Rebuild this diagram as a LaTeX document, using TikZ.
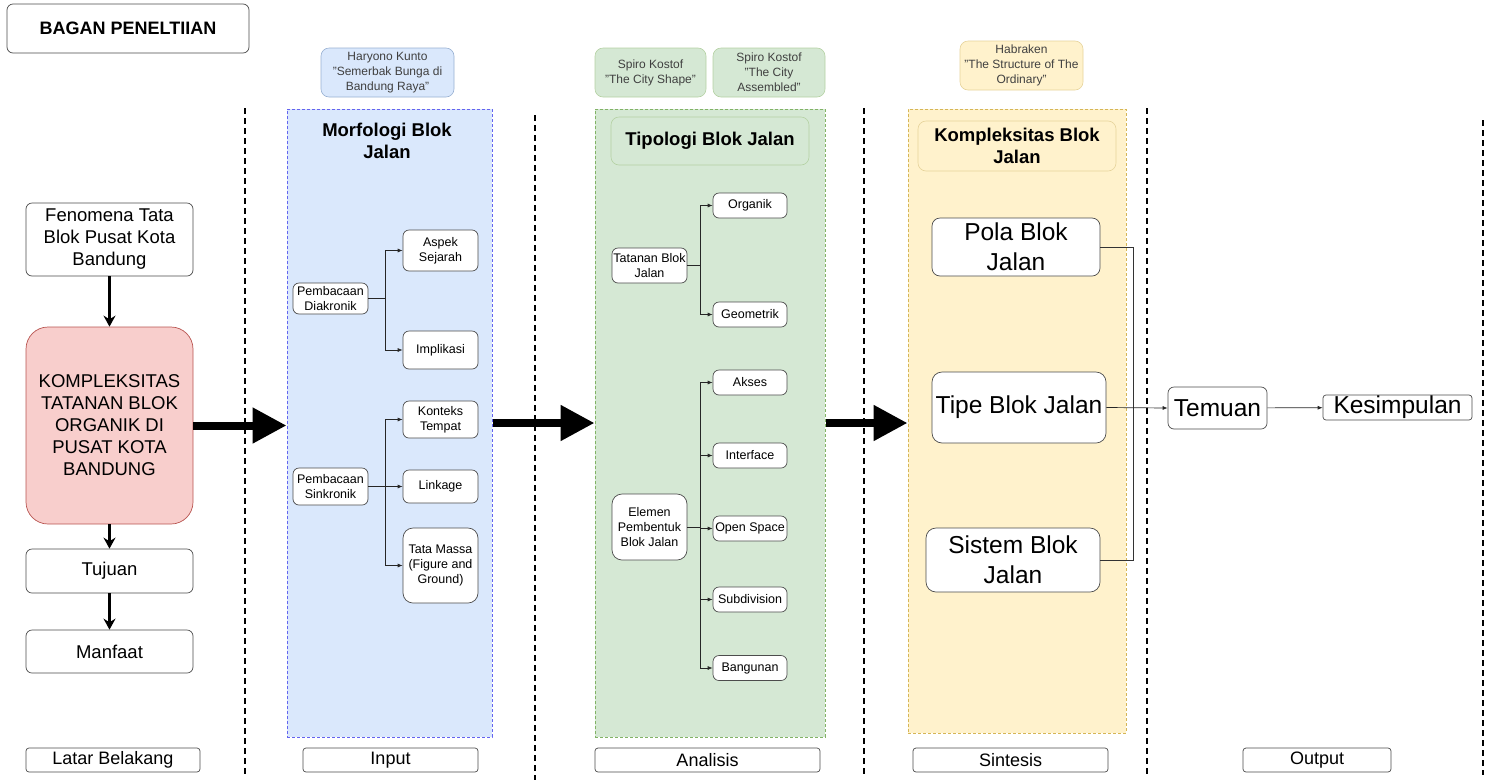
\documentclass[tikz,border=0pt]{standalone}
\usepackage{fontspec}
\setmainfont{Liberation Sans}
\usepackage{tikz}
\usetikzlibrary{arrows.meta}
\usetikzlibrary{positioning}
\definecolor{bluefill}{HTML}{DAE8FC}
\definecolor{blueline}{HTML}{6C8EBF}
\definecolor{bluedash}{HTML}{6464F0}
\definecolor{greenfill}{HTML}{D5E8D4}
\definecolor{greenline}{HTML}{82B366}
\definecolor{yellowfill}{HTML}{FFF2CC}
\definecolor{yellowline}{HTML}{D6B656}
\definecolor{redfill}{HTML}{F8CECC}
\definecolor{redline}{HTML}{B85450}
\tikzset{
  box/.style = {draw = black!70, fill = white, rounded corners = 6pt, align = center, inner sep = 1pt, line width = 0.7pt},
  sbox/.style = {box, font = \fontsize{12.5}{15}\selectfont},
  mbox/.style = {box, font = \fontsize{18.5}{22}\selectfont, minimum width = 167pt},
  bbox/.style = {box, font = \fontsize{24.5}{30}\selectfont},
  tag/.style = {box, rounded corners = 3pt, font = \fontsize{18}{20}\selectfont, minimum height = 24pt},
  src/.style = {rounded corners = 8pt, align = center, inner sep = 1pt, text = black!75, font = \fontsize{12}{15}\selectfont, line width = 0.6pt},
  head/.style = {align = center, font = \fontsize{18.5}{22.5}\selectfont\bfseries},
  panel/.style = {dash pattern = on 3pt off 2pt, line width = 1pt},
  sep/.style = {dash pattern = on 6pt off 4pt, line width = 1.4pt},
  fat/.style = {line width = 8pt, -{Triangle[length = 34pt, width = 34pt]}},
  down/.style = {line width = 2.4pt, -{Stealth[length = 11pt, width = 12pt]}},
  link/.style = {draw = black!85, line width = 0.7pt, -{Latex[length = 5pt, width = 4pt]}}
}
\begin{document}
\begin{tikzpicture}[x = 1pt, y = -1pt]
    \useasboundingbox (0, 0) rectangle (1485, 780);

    \node [box, minimum width = 242pt, minimum height = 49pt, font = \fontsize{18}{20}\selectfont\bfseries] (judul) at (128, 28.5) {BAGAN PENELTIIAN};

    \draw [sep] (245, 108) -- (245, 775);
    \draw [sep] (535, 115) -- (535, 780);
    \draw [sep] (864, 108) -- (864, 775);
    \draw [sep] (1147, 108) -- (1147, 775);
    \draw [sep] (1483, 120) -- (1483, 775);

    \node [mbox, minimum height = 73pt] (fenomena) at (109.5, 239.5) {Fenomena Tata\\Blok Pusat Kota\\Bandung};
    \node [mbox, minimum height = 197pt, fill = redfill, draw = redline, rounded corners = 22pt] (kompleks) at (109.5, 425.5) {KOMPLEKSITAS\\TATANAN BLOK\\ORGANIK DI\\PUSAT KOTA\\BANDUNG};
    \node [mbox, minimum height = 44pt] (tujuan) at (109.5, 571) {Tujuan};
    \node [mbox, minimum height = 43pt] (manfaat) at (109.5, 651.5) {Manfaat};
    \draw [down] (fenomena) -- (kompleks);
    \draw [down] (kompleks) -- (tujuan);
    \draw [down] (tujuan) -- (manfaat);

    \node [panel, draw = bluedash, fill = bluefill, minimum width = 205pt, minimum height = 628pt] (input) at (389.5, 423) {};
    \node [src, draw = blueline!70, fill = bluefill, minimum width = 133pt, minimum height = 49pt] (kunto) at (387.5, 72.5) {Haryono Kunto\\"Semerbak Bunga di\\Bandung Raya"};
    \node [head] (morfologi) at (387, 141) {Morfologi Blok\\Jalan};
    \node [sbox, minimum width = 75pt, minimum height = 31pt] (diakronik) at (330.5, 298.5) {Pembacaan\\Diakronik};
    \node [sbox, minimum width = 75pt, minimum height = 37pt] (sinkronik) at (330.5, 486.5) {Pembacaan\\Sinkronik};
    \node [sbox, minimum width = 75pt, minimum height = 41pt] (sejarah) at (440.5, 250.5) {Aspek\\Sejarah};
    \node [sbox, minimum width = 75pt, minimum height = 38pt] (implikasi) at (440.5, 350) {Implikasi};
    \node [sbox, minimum width = 75pt, minimum height = 37pt] (konteks) at (440.5, 419.5) {Konteks\\Tempat};
    \node [sbox, minimum width = 75pt, minimum height = 33pt] (linkage) at (440.5, 486.5) {Linkage};
    \node [sbox, minimum width = 75pt, minimum height = 75pt, rounded corners = 10pt] (massa) at (440.5, 565.5) {Tata Massa\\(Figure and\\Ground)};
    \draw [link] (diakronik.east) -- ++(17, 0) |- (sejarah.west);
    \draw [link] (diakronik.east) -- ++(17, 0) |- (implikasi.west);
    \draw [link] (sinkronik.east) -- ++(17, 0) |- (konteks.west);
    \draw [link] (sinkronik.east) -- (linkage.west);
    \draw [link] (sinkronik.east) -- ++(17, 0) |- (massa.west);

    \node [panel, draw = greenline, fill = greenfill, minimum width = 230pt, minimum height = 628pt] (analisis) at (710, 423) {};
    \node [src, draw = greenline!60, fill = greenfill, minimum width = 111pt, minimum height = 49pt] (shape) at (650.5, 72.5) {Spiro Kostof\\"The City Shape"};
    \node [src, draw = greenline!60, fill = greenfill, minimum width = 112pt, minimum height = 49pt] (assembled) at (769, 72.5) {Spiro Kostof\\"The City\\Assembled"};
    \node [head, draw = greenline!60, fill = greenfill, rounded corners = 8pt, minimum width = 198pt, minimum height = 48pt, line width = 0.6pt] (tipologi) at (710, 141) {Tipologi Blok Jalan};
    \node [sbox, minimum width = 75pt, minimum height = 35pt] (tatanan) at (649.5, 265.5) {Tatanan Blok\\Jalan};
    \node [sbox, minimum width = 74pt, minimum height = 25pt] (organik) at (750, 205.5) {Organik};
    \node [sbox, minimum width = 74pt, minimum height = 25pt] (geometrik) at (750, 314.5) {Geometrik};
    \node [sbox, minimum width = 75pt, minimum height = 66pt, rounded corners = 10pt] (elemen) at (649.5, 527) {Elemen\\Pembentuk\\Blok Jalan};
    \node [sbox, minimum width = 74pt, minimum height = 25pt] (akses) at (750, 382.5) {Akses};
    \node [sbox, minimum width = 74pt, minimum height = 25pt] (interface) at (750, 455.5) {Interface};
    \node [sbox, minimum width = 74pt, minimum height = 25pt] (openspace) at (750, 528.5) {Open Space};
    \node [sbox, minimum width = 74pt, minimum height = 25pt] (subdivision) at (750, 599.5) {Subdivision};
    \node [sbox, minimum width = 74pt, minimum height = 25pt] (bangunan) at (750, 668) {Bangunan};
    \draw [link] (tatanan.east) -- ++(13, 0) |- (organik.west);
    \draw [link] (tatanan.east) -- ++(13, 0) |- (geometrik.west);
    \foreach \anak in {akses, interface, openspace, subdivision, bangunan}
      \draw [link] (elemen.east) -- ++(13, 0) |- (\anak.west);

    \node [panel, draw = yellowline, fill = yellowfill, minimum width = 218pt, minimum height = 624pt] (sintesis) at (1017, 421) {};
    \node [src, draw = yellowline!60, fill = yellowfill, minimum width = 123pt, minimum height = 49pt] (habraken) at (1021.5, 65.5) {Habraken\\"The Structure of The\\Ordinary"};
    \node [head, draw = yellowline!60, fill = yellowfill, rounded corners = 8pt, minimum width = 198pt, minimum height = 50pt, line width = 0.6pt] (kompleksitas) at (1017, 146) {Kompleksitas Blok\\Jalan};
    \node [bbox, minimum width = 168pt, minimum height = 58pt, rounded corners = 8pt] (pola) at (1016, 247) {Pola Blok\\Jalan};
    \node [bbox, minimum width = 174pt, minimum height = 71pt, rounded corners = 10pt] (tipe) at (1019, 407.5) {Tipe Blok Jalan};
    \node [bbox, minimum width = 174pt, minimum height = 64pt, rounded corners = 10pt] (sistem) at (1013, 560) {Sistem Blok\\Jalan};
    \draw [draw = black!80, line width = 0.7pt] (pola.east) -- ++(33, 0) |- (sistem.east);

    \node [bbox, minimum width = 99pt, minimum height = 42pt] (temuan) at (1217.5, 408) {Temuan};
    \node [bbox, minimum width = 149pt, minimum height = 25pt, rounded corners = 3pt] (kesimpulan) at (1397.5, 407.5) {Kesimpulan};
    \draw [link] (tipe.east) -- (temuan.west);
    \draw [link] (temuan) -- (kesimpulan);

    \draw [fat] (kompleks.east) -- (kompleks.east -| input.west);
    \draw [fat] (input.east) -- (analisis.west);
    \draw [fat] (analisis.east) -- (analisis.east -| sintesis.west);

    \node [tag, minimum width = 174pt] (latar) at (113, 760) {Latar Belakang};
    \node [tag, minimum width = 175pt] (tinput) at (390.5, 760) {Input};
    \node [tag, minimum width = 225pt] (tanalisis) at (707.5, 760) {Analisis};
    \node [tag, minimum width = 195pt] (tsintesis) at (1010.5, 760) {Sintesis};
    \node [tag, minimum width = 148pt] (toutput) at (1317, 760) {Output};
\end{tikzpicture}
\end{document}
